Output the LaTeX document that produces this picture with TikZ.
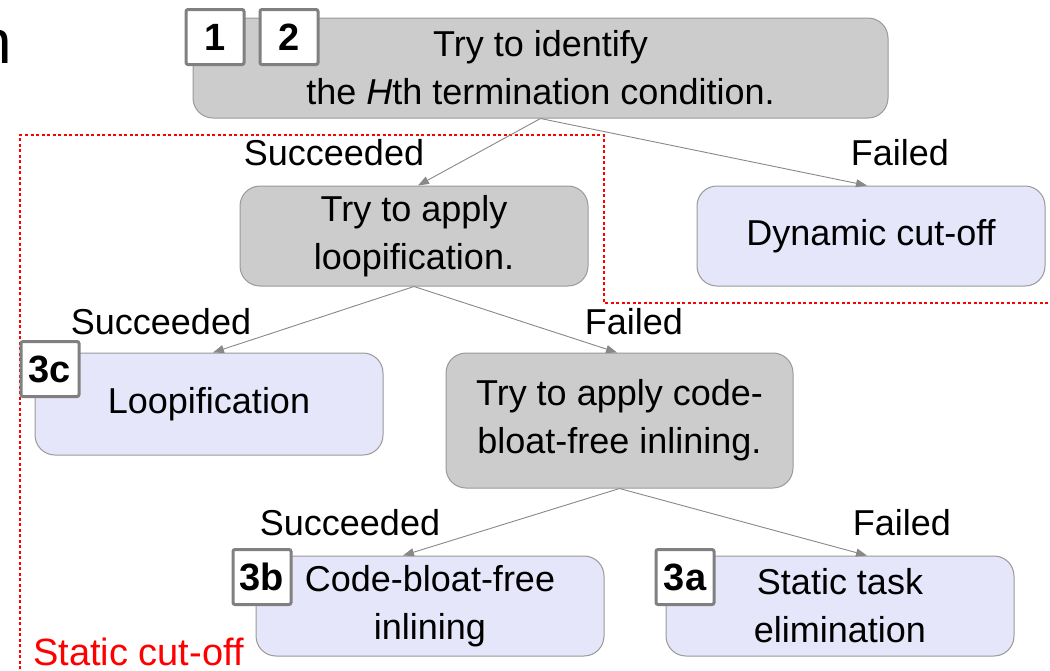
\documentclass[tikz,border=0pt]{standalone}
\usepackage{fontspec}
\setmainfont{Liberation Sans}
\usetikzlibrary{arrows.meta,calc}
\definecolor{trygray}{HTML}{CCCCCC}
\definecolor{resultblue}{HTML}{E6E6FA}
\definecolor{edgegray}{HTML}{999999}
\definecolor{badgegray}{HTML}{808080}
\definecolor{linkgray}{HTML}{888888}
\begin{document}
\begin{tikzpicture}[x=1pt,y=-1pt,
  every node/.style={font=\fontsize{36}{48}\selectfont},
  block/.style={draw=edgegray, line width=1pt, rounded corners=20pt,
    align=center, inner sep=0pt, minimum width=348pt, minimum height=100pt},
  tryblock/.style={block, fill=trygray},
  resultblock/.style={block, fill=resultblue},
  badge/.style={draw=badgegray, line width=3pt, fill=white, rounded corners=2pt,
    inner sep=0pt, minimum width=58pt, minimum height=55pt,
    font=\fontsize{38}{48}\selectfont\bfseries},
  outcome/.style={anchor=base, inner sep=0pt},
  link/.style={draw=linkgray, line width=0.9pt, -{Triangle[length=11pt,width=8pt]}},
  cutoff/.style={draw=red, line width=1.8pt, dash pattern=on 3pt off 2.5pt}
]
\useasboundingbox (0,0) rectangle (1050,670);

% static cut-off region
\draw[cutoff] (20,680) -- (20,135) -- (604,135) -- (604,303) -- (1060,303);
\node[anchor=base west, inner sep=0pt, text=red, font=\fontsize{38}{48}\selectfont]
  (staticlbl) at (33,665) {Static cut-off};

% stray glyph at the left edge
\node[anchor=base east, inner sep=0pt, font=\fontsize{62}{70}\selectfont] (edgeglyph) at (12,63) {n};

% decision and outcome boxes
\node[tryblock, minimum width=695pt] (ident) at (540.5,68)
  {Try to identify\\the \textit{H}th termination condition.};
\node[tryblock] (looptry) at (414,236) {\raisebox{-3pt}{Try to apply}\\\raisebox{-3pt}{loopification.}};
\node[resultblock] (dynamic) at (871,236) {Dynamic cut-off};
\node[resultblock, minimum height=102pt] (loopres) at (209,404) {Loopification};
\node[tryblock, minimum width=347pt, minimum height=135pt] (inltry) at (619.5,420.5)
  {Try to apply code-\\bloat-free inlining.};
\node[resultblock] (inlres) at (430,606) {Code-bloat-free\\inlining};
\node[resultblock] (elimres) at (840,606) {Static task\\elimination};

% step badges
\node[badge] (b1) at (215,37) {1};
\node[badge] (b2) at (289,37) {2};
\node[badge] (b3c) at (50,369) {3c};
\node[badge] (b3b) at (262,577) {3b};
\node[badge] (b3a) at (685,577) {3a};

% connectors
\draw[link] (ident.south) -- ($(looptry.north)+(4,0)$);
\draw[link] (ident.south) -- ($(dynamic.north)+(-4,0)$);
\draw[link] (looptry.south) -- ($(loopres.north)+(4,0)$);
\draw[link] (looptry.south) -- ($(inltry.north)+(-2.5,0)$);
\draw[link] (inltry.south) -- ($(inlres.north)+(-27,0)$);
\draw[link] (inltry.south) -- ($(elimres.north)+(27,0)$);

% outcome labels
\node[outcome] (s1) at (334,165) {Succeeded};
\node[outcome] (f1) at (900,165) {Failed};
\node[outcome] (s2) at (161,334) {Succeeded};
\node[outcome] (f2) at (634,334) {Failed};
\node[outcome] (s3) at (350,535) {Succeeded};
\node[outcome] (f3) at (902,535) {Failed};
\end{tikzpicture}
\end{document}
